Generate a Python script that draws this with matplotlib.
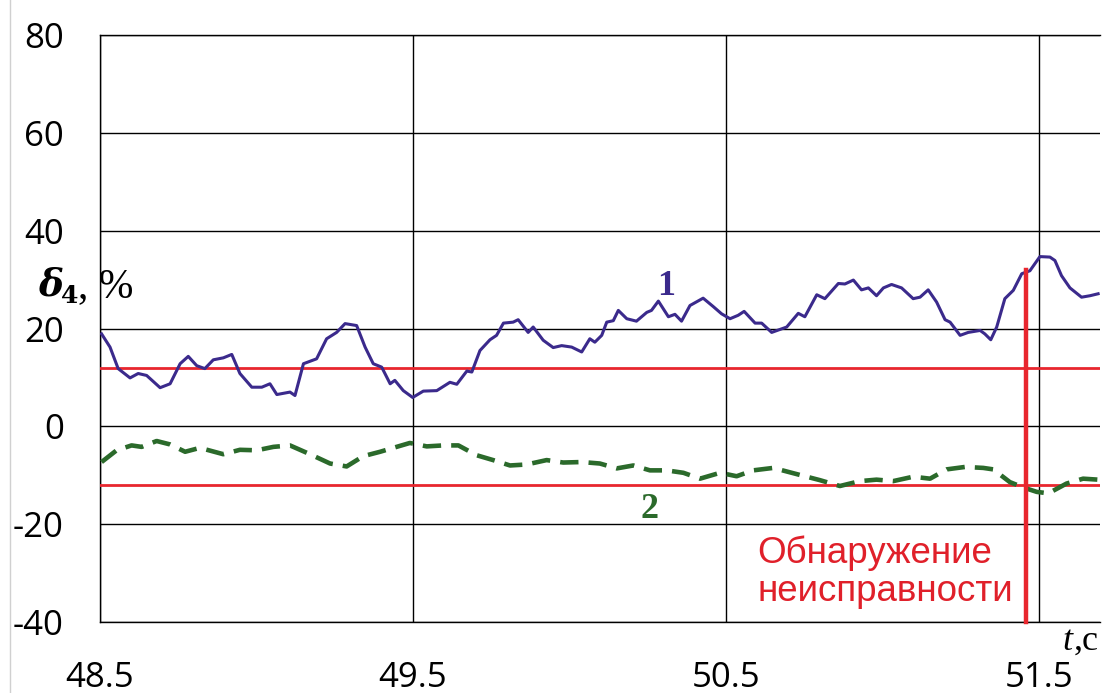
import matplotlib.pyplot as plt
from matplotlib.lines import Line2D

plt.rcParams['axes.unicode_minus'] = False

# Данные
t1 = [48.505, 48.532, 48.558, 48.596, 48.622, 48.649, 48.692, 48.724, 48.756, 48.782,
      48.809, 48.835, 48.862, 48.894, 48.921, 48.947, 48.985, 49.017, 49.043, 49.065,
      49.107, 49.123, 49.150, 49.192, 49.224, 49.256, 49.283, 49.320, 49.347, 49.373,
      49.400, 49.427, 49.442, 49.469, 49.499, 49.533, 49.576, 49.618, 49.640, 49.672,
      49.688, 49.714, 49.746, 49.767, 49.789, 49.820, 49.836, 49.868, 49.884, 49.916,
      49.948, 49.975, 50.007, 50.039, 50.065, 50.081, 50.103, 50.119, 50.140, 50.156,
      50.183, 50.214, 50.247, 50.262, 50.284, 50.316, 50.337, 50.358, 50.385, 50.427,
      50.459, 50.486, 50.513, 50.539, 50.558, 50.593, 50.614, 50.646, 50.694, 50.731,
      50.752, 50.790, 50.816, 50.859, 50.880, 50.907, 50.933, 50.955, 50.981, 51.003,
      51.029, 51.061, 51.098, 51.120, 51.146, 51.173, 51.200, 51.216, 51.248, 51.274,
      51.312, 51.327, 51.346, 51.365, 51.391, 51.418, 51.445, 51.471, 51.503, 51.535,
      51.551, 51.572, 51.599, 51.636, 51.663, 51.689]
d1 = [18.9, 16.2, 11.8, 9.9, 10.8, 10.4, 7.9, 8.7, 12.8, 14.3,
      12.4, 11.8, 13.6, 14.0, 14.7, 10.8, 8.0, 8.0, 8.7, 6.5,
      7.0, 6.3, 12.8, 13.8, 17.9, 19.2, 21.0, 20.6, 16.2, 12.8,
      12.1, 8.7, 9.4, 7.3, 5.9, 7.2, 7.3, 9.0, 8.6, 11.3,
      11.1, 15.5, 17.7, 18.6, 21.1, 21.3, 21.8, 19.2, 20.3, 17.6,
      16.1, 16.5, 16.2, 15.2, 17.9, 17.2, 18.6, 21.3, 21.6, 23.7,
      22.0, 21.5, 23.3, 23.7, 25.6, 22.4, 22.9, 21.5, 24.7, 26.2,
      24.5, 23.0, 22.0, 22.7, 23.5, 21.1, 21.1, 19.2, 20.3, 23.1,
      22.4, 26.9, 26.1, 29.2, 29.1, 29.9, 27.9, 28.3, 26.7, 28.3,
      29.0, 28.3, 26.1, 26.4, 27.9, 25.4, 21.8, 21.3, 18.6, 19.2,
      19.6, 18.9, 17.7, 20.3, 26.1, 27.8, 31.2, 31.8, 34.7, 34.6,
      33.9, 30.8, 28.3, 26.4, 26.7, 27.1]

t2 = [48.505, 48.553, 48.601, 48.633, 48.681, 48.724, 48.772, 48.819, 48.894, 48.947,
      49.001, 49.054, 49.107, 49.171, 49.235, 49.288, 49.341, 49.395, 49.437, 49.490,
      49.544, 49.597, 49.645, 49.703, 49.756, 49.810, 49.863, 49.927, 49.980, 50.039,
      50.097, 50.151, 50.204, 50.257, 50.310, 50.364, 50.417, 50.481, 50.534, 50.587,
      50.651, 50.710, 50.800, 50.864, 50.928, 50.981, 51.034, 51.098, 51.152, 51.205,
      51.264, 51.322, 51.354, 51.407, 51.450, 51.493, 51.530, 51.588, 51.641, 51.689]
d2 = [-7.3, -4.9, -3.9, -4.2, -3.0, -3.7, -5.2, -4.4, -5.7, -4.8,
      -4.9, -4.2, -3.9, -5.7, -7.6, -8.2, -6.1, -5.2, -4.4, -3.4,
      -4.1, -3.9, -3.9, -5.9, -6.9, -8.0, -7.8, -6.9, -7.4, -7.3,
      -7.6, -8.6, -8.0, -9.0, -9.0, -9.5, -10.7, -9.5, -10.2, -9.0,
      -8.5, -9.5, -11.0, -12.2, -11.2, -10.9, -11.2, -10.3, -10.7, -8.8,
      -8.3, -8.5, -8.8, -11.4, -12.5, -13.4, -13.7, -11.7, -10.7, -10.9]

porog = [12, -12]          # пороги
t_obn = 51.46              # момент обнаружения
d_obn = 32
xticks = [48.5, 49.5, 50.5, 51.5]
xlabels = ["48.5", "49.5", "50.5", "51.5"]
yticks = [-40, -20, 0, 20, 40, 60, 80]

fig = plt.figure(figsize=(11.09, 6.93), dpi=100)
ax = fig.add_axes([100/1109, 71/693, 1000/1109, 587/693])

ax.set_xlim(48.5, 51.695)
ax.set_ylim(-40, 80)
ax.set_xticks(xticks)
ax.set_xticklabels(xlabels)
ax.set_yticks(yticks)
ax.grid(True, color="black", linewidth=1.0)
ax.set_axisbelow(True)
ax.tick_params(length=0, labelsize=25)
ax.tick_params(axis="y", pad=26)
ax.tick_params(axis="x", pad=28)
for lab in ax.get_xticklabels() + ax.get_yticklabels():
    lab.set_family("Open Sans")
for s in ["top", "left", "bottom"]:
    ax.spines[s].set_linewidth(1.0)
ax.spines["right"].set_visible(False)

# Пороги
for p in porog:
    ax.axhline(p, color="#e8262e", linewidth=2.0, zorder=3)

ax.plot(t1, d1, "-", color="#3b2a8c", linewidth=2.2, zorder=4)
ax.plot(t2, d2, "--", color="#2b6a2b", linewidth=3.3, dashes=(4, 2.2), zorder=4)

# Обнаружение неисправности
ax.plot([t_obn, t_obn], [-40, d_obn], color="#e8262e", linewidth=3.2, zorder=5,
        clip_on=False)
ax.text(50.6, -29.8, "Обнаружение\nнеисправности", color="#e0202a", fontsize=26.5,
        family="Liberation Sans", va="center", ha="left", linespacing=1.1)

# Номера кривых
ax.text(50.31, 28.5, "1", color="#3b2a8c", fontsize=26, weight="bold",
        family="Liberation Serif", ha="center", va="center")
ax.text(50.257, -17, "2", color="#2b6a2b", fontsize=26, weight="bold",
        family="Liberation Serif", ha="center", va="center")

# Подписи осей
fig.text(38/1109, 1 - 285/693, "δ", fontsize=27, style="italic", weight="bold",
         family="DejaVu Serif", va="center", ha="left")
fig.text(61/1109, 1 - 296/693, "4", fontsize=18, weight="bold",
         family="DejaVu Serif", va="center", ha="left")
fig.text(78/1109, 1 - 287/693, ", %", fontsize=30,
         family="Liberation Serif", va="center", ha="left")
fig.text(1062/1109, 1 - 641/693, "t", fontsize=26, style="italic",
         family="Liberation Serif", va="center", ha="left")
fig.text(1074/1109, 1 - 641/693, ",с", fontsize=26,
         family="Liberation Serif", va="center", ha="left")

fig.add_artist(Line2D([10/1109, 10/1109], [0, 1], color="#d0d0d0", linewidth=1.0))

plt.savefig("out.png", dpi=100)
